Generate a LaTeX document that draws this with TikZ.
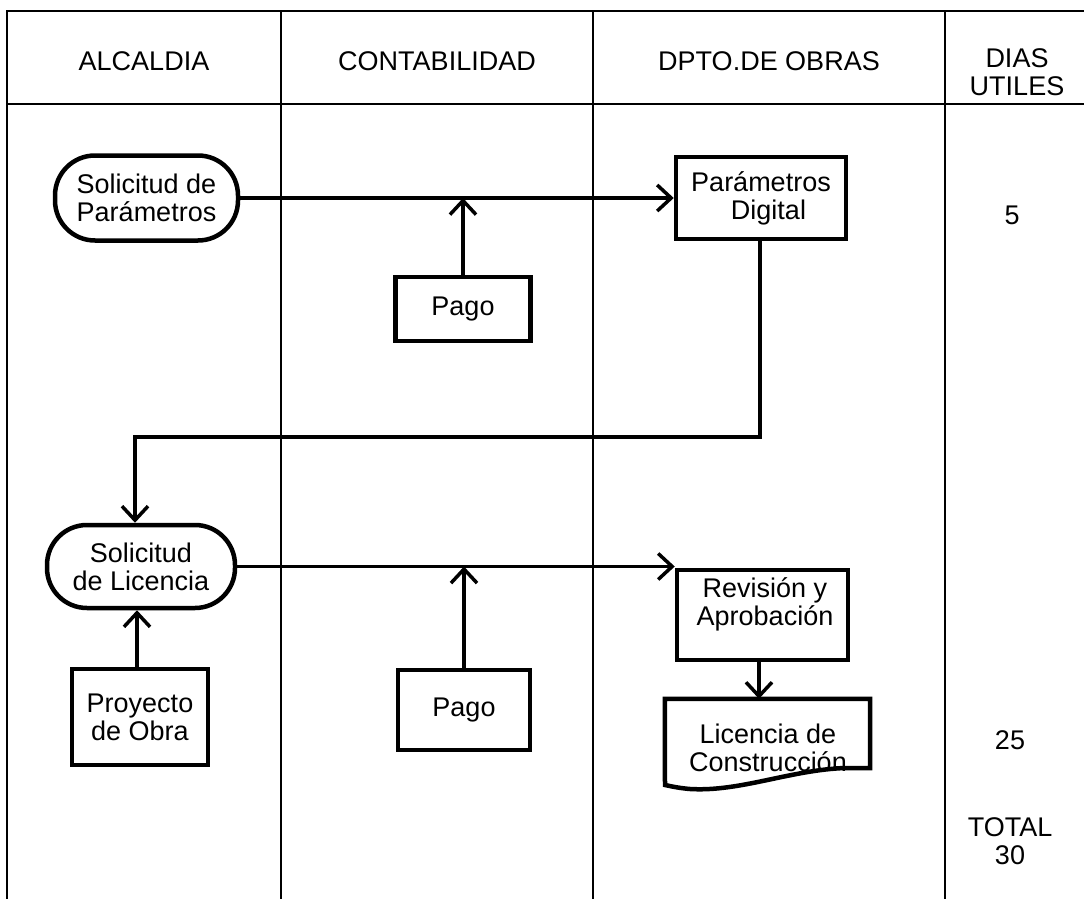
\documentclass[tikz,border=0pt]{standalone}
\usepackage{fontspec}
\setmainfont{Liberation Sans}
\usetikzlibrary{arrows.meta}
\begin{document}
\begin{tikzpicture}[x=1pt,y=-1pt,
  grid/.style={line width=2.6pt},
  txt/.style={font=\fontsize{27}{28}\selectfont, align=center, inner sep=0pt},
  term/.style={draw, line width=4.5pt, rounded corners=40pt, inner sep=0pt, align=center, font=\fontsize{27}{28}\selectfont},
  procbox/.style={draw, line width=4.5pt, inner sep=0pt, align=center, font=\fontsize{27}{28}\selectfont},
  arr/.style={line width=3.5pt, -{Straight Barb[length=14pt,width=26pt]}}
]
\useasboundingbox (0,0) rectangle (1084,899);
% table
\draw[grid] (7,899) -- (7,11) -- (1084,11);
\draw[grid] (7,104) -- (1084,104);
\draw[grid] (281,11) -- (281,899);
\draw[grid] (593,11) -- (593,899);
\draw[grid] (945,11) -- (945,899);
% headers
\node[txt] (h1) at (144,61) {ALCALDIA};
\node[txt] (h2) at (437,61) {CONTABILIDAD};
\node[txt] (h3) at (769,61) {DPTO.DE OBRAS};
\node[txt] (h4) at (1017,72) {DIAS\\UTILES};
% days
\node[txt] (d1) at (1012,215) {5};
\node[txt] (d2) at (1010,740) {25};
\node[txt] (d3) at (1010,841) {TOTAL\\30};
% row 1
\node[term, minimum width=183pt, minimum height=85pt] (sp) at (146.5,198) {Solicitud de\\Parámetros};
\node[procbox, minimum width=170pt, minimum height=82pt] (pd) at (761,198) {Parámetros\\\ \ Digital};
\node[procbox, minimum width=135pt, minimum height=64pt] (pago1) at (463,309) {Pago};
\coordinate (j1) at (463,198);
\draw[arr] (sp.east) -- (pd.west);
\draw[arr] (pago1.north) -- (j1);
% loop back
\coordinate (c1) at (760,437);
\coordinate (c2) at (135,437);
% row 2
\node[term, minimum width=188pt, minimum height=83pt] (sl) at (141,566.5) {Solicitud\\de Licencia};
\draw[arr] (pd.south -| c1) -- (c1) -- (c2) -- (sl.north -| c2);
\node[procbox, minimum width=136pt, minimum height=96pt] (po) at (140,717) {Proyecto\\de Obra};
\draw[arr] (po.north -| 137,0) -- (sl.south -| 137,0);
\node[procbox, minimum width=171pt, minimum height=90pt] (rev) at (762.5,615) {};
\node[txt] (revt) at (765,604) {Revisión y\\Aprobación};
\draw[arr] (sl.east) -- (rev.west |- sl.east);
\node[procbox, minimum width=132pt, minimum height=80pt] (pago2) at (464,710) {Pago};
\draw[arr] (pago2.north) -- (pago2.north |- sl.east);
% document shape
\node[inner sep=0pt, minimum width=205pt, minimum height=86pt] (lc) at (767.5,742) {};
\draw[line width=4.5pt, line join=miter] (lc.north west) -- (lc.north east) -- (870,768) -- (845,768)
  .. controls (790,770) and (740,792) .. (690,789) .. controls (678,788) and (670,786) .. (665,785) -- cycle;
\node[txt] (lct) at (768,748) {Licencia de\\Construcción};
\draw[arr] (rev.south -| 759,0) -- (lc.north -| 759,0);
\end{tikzpicture}
\end{document}
